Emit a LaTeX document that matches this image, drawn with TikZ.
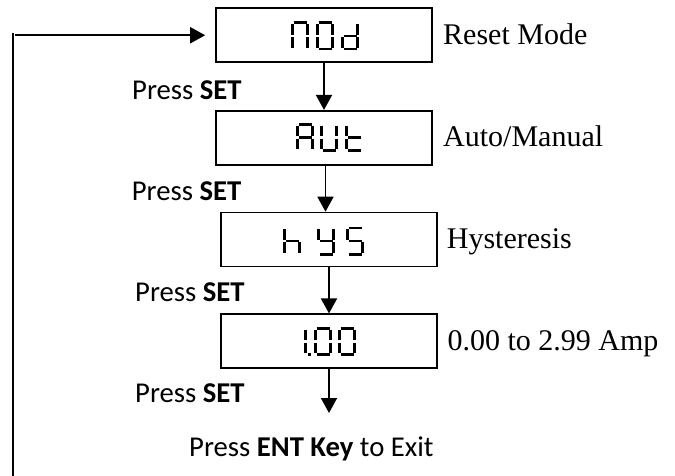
\documentclass[tikz,border=0pt]{standalone}
\usepackage{fontspec}
\setmainfont{Liberation Serif}
\newfontfamily\carl{Carlito}
\usetikzlibrary{arrows.meta,calc}
% seven-segment pieces, cell origin top-left, 18 x 29
\newcommand\sgA{\draw[segline] (2.5,1.3)--(15.5,1.3);}
\newcommand\sgB{\draw[segline] (16.7,2.6)--(16.7,13.2);}
\newcommand\sgC{\draw[segline] (16.7,15.8)--(16.7,26.4);}
\newcommand\sgD{\draw[segline] (2.5,27.7)--(15.5,27.7);}
\newcommand\sgE{\draw[segline] (1.3,15.8)--(1.3,26.4);}
\newcommand\sgF{\draw[segline] (1.3,2.6)--(1.3,13.2);}
\newcommand\sgG{\draw[segline] (2.5,14.5)--(15.5,14.5);}
\newcommand\sgP{\fill (19,26.4) rectangle (21.8,29);}
\newcommand\glyph[3]{\begin{scope}[shift={(#1,#2)}]#3\end{scope}}
\begin{document}
\begin{tikzpicture}[x=1pt,y=-1pt,
  box/.style={draw, line width=1.6pt, minimum width=216pt, minimum height=54pt, inner sep=0pt},
  arr/.style={line width=1.8pt, -{Triangle[width=16pt,length=15pt]}},
  segline/.style={line width=2.6pt, line cap=butt},
  lbl/.style={anchor=base west, inner sep=0pt, font=\carl\fontsize{28.7}{32}\selectfont},
  desc/.style={anchor=base west, inner sep=0pt, font=\fontsize{30}{32}\selectfont},
  fb/.style={line width=1.6pt}]
\useasboundingbox (0,0) rectangle (675,476);

% boxes
\node[box] (b1) at (324,35.25) {};
\node[box] (b2) at (324,137.75) {};
\node[box] (b3) at (329,239.5) {};
\node[box] (b4) at (329,341.25) {};

% display contents
\glyph{291}{21.5}{\sgA\sgB\sgC\sgE\sgF}
\glyph{316}{21.5}{\sgA\sgB\sgC\sgD\sgE\sgF}
\glyph{341}{21.5}{\sgB\sgC\sgD\sgE\sgG}

\glyph{296}{123}{\sgA\sgB\sgC\sgE\sgF\sgG}
\glyph{320}{123}{\sgB\sgC\sgD\sgE\sgF}
\glyph{345}{123}{\sgD\sgE\sgF\sgG}

\glyph{283}{226.5}{\sgC\sgE\sgF\sgG}
\glyph{317}{226.5}{\sgB\sgC\sgD\sgF\sgG}
\glyph{346}{226.5}{\sgA\sgC\sgD\sgF\sgG}

\glyph{289}{327}{\sgB\sgC\sgP}
\glyph{314}{327}{\sgA\sgB\sgC\sgD\sgE\sgF}
\glyph{338}{327}{\sgA\sgB\sgC\sgD\sgE\sgF}

% descriptions
\node[desc] (d1) at (443,45) {Reset Mode};
\node[desc] (d2) at (443,146.7) {Auto/Manual};
\node[desc] (d3) at (446.7,248.3) {Hysteresis};
\node[desc] (d4) at (447.3,350) {0.00 to 2.99 Amp};

% press labels
\node[lbl] (p1) at (132,99.3) {Press \textbf{SET}};
\node[lbl] (p2) at (131.7,200.5) {Press \textbf{SET}};
\node[lbl] (p3) at (135,301.5) {Press \textbf{SET}};
\node[lbl] (p4) at (135,402) {Press \textbf{SET}};
\node[lbl] (ex) at (189,456) {Press \textbf{ENT Key} to Exit};

% arrows
\draw[arr] (b1.south) -- (b2.north);
\draw[arr] ($(b2.south)+(1.5,0)$) -- ($(b3.north)+(-3.5,0)$);
\draw[arr] (b3.south) -- (b4.north);
\coordinate (out) at (329,413);
\draw[arr] (b4.south) -- (out);

% feedback loop
\coordinate (fbot) at (12.7,476);
\coordinate (ftop) at (12.7,33);
\draw[fb] (fbot) -- (ftop);
\coordinate (hstart) at (15,35.25);
\draw[arr, shorten >=10pt] (hstart) -- (b1.west);
\end{tikzpicture}
\end{document}
